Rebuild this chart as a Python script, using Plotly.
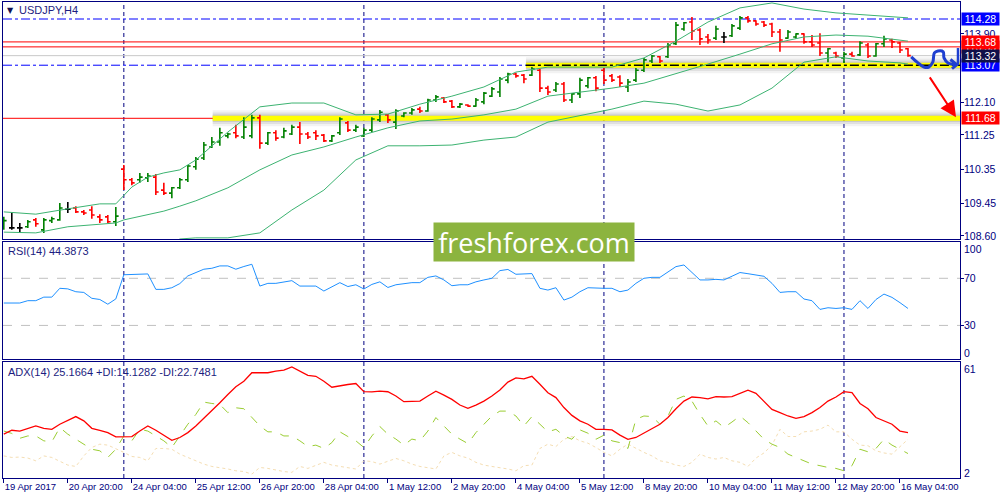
import plotly.graph_objects as go

# ---------------- data ----------------
bar_open = [108.84,108.81,108.81,108.84,109.02,108.76,109.00,109.02,109.30,109.33,
            109.23,109.28,109.10,109.10,108.97,110.35,110.07,110.07,110.12,110.14,
            109.80,109.72,109.86,110.07,110.41,110.64,110.93,111.06,111.22,111.30,
            111.19,111.22,111.69,111.03,111.30,111.19,111.27,111.45,111.27,111.30,
            111.24,111.09,111.30,111.56,111.37,111.22,111.37,111.64,111.77,111.58,
            111.74,111.82,111.92,111.87,112.16,112.21,112.13,111.98,112.03,112.00,
            112.11,112.26,112.37,112.68,112.84,112.81,112.81,112.94,112.47,112.42,
            112.58,112.16,112.32,112.53,112.74,112.94,112.79,112.76,112.50,112.68,
            112.94,113.18,113.29,113.29,113.63,114.02,114.20,113.99,113.81,113.78,
            113.81,113.84,114.04,114.31,114.23,114.20,114.15,113.94,113.78,113.81,
            113.89,113.68,113.65,113.39,113.39,113.26,113.36,113.34,113.60,113.31,
            113.63,113.73,113.65,113.50]
bar_high = [109.10,109.20,108.94,109.02,109.07,109.07,109.10,109.46,109.49,109.38,
            109.28,109.38,109.17,109.15,109.36,110.46,110.12,110.25,110.25,110.22,
            109.99,109.88,110.12,110.46,110.67,111.06,111.19,111.43,111.30,111.51,
            111.71,111.77,111.77,111.32,111.37,111.43,111.51,111.58,111.32,111.37,
            111.27,111.24,111.71,111.61,111.51,111.43,111.71,111.90,111.79,111.92,
            111.84,111.95,111.98,112.19,112.29,112.24,112.16,112.08,112.05,112.21,
            112.37,112.50,112.76,112.87,112.87,112.84,113.02,112.97,112.53,112.63,
            112.63,112.34,112.74,112.76,112.79,113.00,112.84,112.81,112.71,113.00,
            113.26,113.34,113.31,113.65,114.20,114.20,114.33,114.04,113.89,114.10,
            113.94,114.15,114.36,114.36,114.25,114.23,114.18,114.02,113.99,113.91,
            113.91,113.86,113.91,113.52,113.42,113.42,113.42,113.70,113.65,113.65,
            113.84,113.76,113.68,113.52]
bar_low = [108.76,108.76,108.68,108.81,108.84,108.68,108.94,109.00,109.20,109.20,
           109.15,109.05,108.94,108.94,108.86,109.80,109.93,109.99,110.01,109.67,
           109.67,109.59,109.83,110.01,110.33,110.59,110.90,110.96,111.16,111.16,
           111.14,111.16,110.88,110.98,111.09,111.16,111.24,111.01,111.14,111.11,
           111.06,111.06,111.24,111.32,111.32,111.19,111.32,111.58,111.56,111.40,
           111.71,111.77,111.82,111.85,112.11,112.08,111.95,111.95,111.98,111.98,
           112.05,112.24,112.24,112.60,112.74,112.60,112.79,112.37,112.29,112.37,
           112.11,112.08,112.21,112.47,112.39,112.58,112.63,112.50,112.37,112.63,
           112.89,113.13,113.13,113.26,113.60,113.97,113.73,113.60,113.63,113.73,
           113.65,113.81,113.99,114.18,114.10,114.07,113.81,113.42,113.76,113.76,
           113.63,113.55,113.31,113.15,113.26,113.13,113.29,113.31,113.26,113.29,
           113.55,113.52,113.39,113.29]
bar_close = [109.00,108.81,108.81,108.97,108.92,109.02,109.05,109.33,109.30,109.23,
             109.20,109.15,109.02,108.97,109.12,110.07,109.99,110.14,110.17,109.75,
             109.72,109.86,110.07,110.43,110.61,110.98,111.06,111.30,111.27,111.22,
             111.45,111.69,111.03,111.30,111.16,111.35,111.45,111.27,111.19,111.22,
             111.09,111.22,111.66,111.37,111.45,111.37,111.66,111.84,111.64,111.87,
             111.82,111.90,111.87,112.16,112.24,112.11,111.98,112.05,112.00,112.16,
             112.34,112.45,112.71,112.84,112.79,112.71,112.97,112.47,112.37,112.58,
             112.16,112.32,112.68,112.74,112.47,112.68,112.68,112.60,112.63,112.94,
             113.21,113.31,113.18,113.60,114.12,114.18,113.97,113.76,113.73,114.02,
             113.81,114.10,114.31,114.23,114.15,114.12,113.94,113.73,113.94,113.89,
             113.68,113.60,113.39,113.50,113.31,113.36,113.31,113.65,113.31,113.63,
             113.76,113.68,113.47,113.32]
doji_bars = [1, 2, 8, 90]

band_idx = [0,4,8,12,14,15,16,18,20,22,24,28,32,36,40,44,48,52,56,60,64,68,72,76,80,84,88,92,96,100,104,108,112,113]
band_upper = [109.23,109.17,109.31,109.44,109.44,109.67,109.88,110.14,110.25,110.33,110.59,111.32,111.98,112.08,112.08,111.77,111.79,
              112.05,112.26,112.50,112.89,113.02,113.02,113.02,113.26,113.70,114.20,114.57,114.70,114.54,114.44,114.38,114.33,114.31]
band_middle = [108.70,108.68,108.84,108.91,108.94,109.02,109.07,109.17,109.25,109.38,109.52,109.86,110.33,110.72,110.93,111.19,111.43,
               111.61,111.66,111.77,111.92,112.26,112.37,112.47,112.60,112.84,113.10,113.36,113.63,113.81,113.86,113.83,113.73,113.70]
band_lower = [108.18,108.18,108.34,108.39,108.44,108.34,108.23,108.10,108.23,108.52,108.55,108.55,108.68,109.28,109.80,110.59,110.96,
              110.96,110.98,111.11,111.19,111.58,111.74,111.92,112.13,112.05,111.87,112.03,112.47,113.15,113.29,113.18,113.13,113.10]

rsi = [49,49,49,51,51,54,54,61.5,61,58.6, 58,53,52,48,52.5,73,73.4,73.6,73.7,60.6,
       60.6,62,65.5,72,75,77.7,78.5,80.5,80.5,77.7, 80,81.9,63.4,65.7,65.7,67,68,63.4,63.4,63.4,
       59.2,63,66.3,63,64.5,60.9,64.8,67,62.2,64.5, 65.7,66.3,66.3,70.8,72,68.6,63.7,64.5,64.5,67,
       68.6,70,76.5,77.5,73.4,73.4,74,61.5,60,62, 51.5,54,58.6,62,61.5,61.5,61.5,58.6,60,65.7,
       70,70.8,70.8,75.6,79.9,81.3,74.9,68.6,68.6,69.1, 68.6,71.7,74.9,73.9,73,71.7,65.7,58,58.6,58.6,
       52.4,51,43.6,45,44.4,45,43.6,51,44.4,52, 56.6,53.8,49.3,44.4]
adx = [24.4,26.4,26,27.4,28.6,27.4,26.9,29.5,31.5,33.4, 31.2,27.4,26.4,25.2,23,23.2,23.2,26,28.6,26.4,
       23.9,21.3,22.7,25.2,28.6,32.4,36.2,40.5,44.7,48.6, 51.5,55.8,55.8,55.8,56.6,57.1,58.8,56.6,54.5,54,
       51.5,48.4,49.2,49.8,50.3,46.1,46,46.4,46.1,43.9, 41,41,41.3,43.9,46.4,44.4,42.2,39.3,37.6,39.3,
       41.3,43.9,47,51,53.2,52.7,54,49.9,45.6,43.1, 38,34,31.2,29.5,26.9,26.9,26.6,23.9,21.8,22.7,
       24.9,27.3,29.5,32.9,37.4,41.3,43.4,43.1,42.5,43.6, 43.4,43.6,45.3,46.9,45.3,41.3,37.1,35.4,33.7,32.5,
       33.4,35.4,38,41.3,43.4,46.1,45.6,40.1,37.4,32.9, 31.2,29.5,26,25.2]
plus_di = [26,24.8,22.3,23.5,23.5,21,20.5,27.8,24.4,21.9, 19.3,16.7,15.9,12.5,16.7,23.5,21,26.9,26,23.5,
           21,17.6,23.5,29.5,34.5,40.8,40.1,39.6,35.4,37.9, 37.4,32.9,28.6,25.6,25.6,23.5,23.5,21,18.1,18.8,
           17.1,20.1,25.6,23.2,21,17.6,23.5,28.3,24.4,21.9, 18.8,21.9,21,26,32.9,28.6,24.4,21.9,19.6,25.2,
           29.5,33.7,36.2,36.2,33.7,28.6,33.4,29.5,25.6,26.9, 23.5,21.8,26.6,24.9,21.8,23.9,21,20.1,17.1,32,
           33.7,33.4,29.5,33.7,42.2,43.9,41.3,34.5,28.6,31.2, 27.8,30.6,33.7,30.3,26,21.8,19.3,17.6,14.2,12.5,
           10.8,9.1,8.3,7.4,6.9,5.7,8.3,16.7,15.4,17.1, 21.8,18.8,16.7,14.5]
minus_di = [13.3,12.5,12.7,12.2,10.8,13.3,12.5,10.4,8.6,7.9, 13.3,17.6,19.3,18.8,17.1,15.1,13,12.5,10.8,17.1,
            17.1,16.7,14.2,12.5,10.8,9.1,7.9,7.4,6.6,5.7, 5.3,4,7.4,6.9,6,5.3,4.9,7.9,6.9,8.6,
            10,8.6,7.9,7.4,6.6,10.8,10.4,9.1,10.4,12, 10.8,9.1,7.9,7.4,6.6,13.3,15.1,13.3,12.2,10,
            8.6,7.9,7.4,6.6,5.7,8.3,8.6,17.1,19.3,18.1, 21.8,23.2,21,19.8,17.6,15.1,13.3,16.7,19.3,17.1,
            15.1,13.3,10.8,10,8.6,7.9,10,14.2,12.5,11.7, 12.5,10.8,10,7.9,12.2,14.8,18.8,26.9,23.2,23.2,
            25.6,26,26.9,29,25.6,25.6,21.8,18.8,18.5,15.9, 14.8,14.2,18.1,21.8]

tick_idx = [0, 8, 16, 24, 32, 40, 48, 56, 64, 72, 80, 88, 96, 104, 112]
tick_labels = ["19 Apr 2017", "20 Apr 20:00", "24 Apr 04:00", "25 Apr 12:00", "26 Apr 20:00",
               "28 Apr 04:00", "1 May 12:00", "2 May 20:00", "4 May 04:00", "5 May 12:00",
               "8 May 20:00", "10 May 04:00", "11 May 12:00", "12 May 20:00", "16 May 04:00"]
week_starts = [15, 45, 75, 105]
price_ticks = [108.60, 109.45, 110.35, 111.25, 112.10, 113.90]
price_tick_labels = ["108.60", "109.45", "110.35", "111.25", "112.10", "113.90"]
rsi_ticks = [70, 30]
rsi_tick_labels = ["70", "30"]

level_blue_top = 114.28
level_red_a = 113.68
level_red_b = 113.55
level_bid = 113.32
level_support = 113.07
level_target = 111.68
support_start = 65.25
target_start = 26.1

# hand-drawn forecast sketch (annotation)
sketch_x = [113.4, 114.25, 115.0, 115.6, 116.1, 116.3, 116.75, 117.4, 117.5, 118.0, 119.1]
sketch_y = [113.29, 113.13, 113.02, 113.02, 113.15, 113.39, 113.44, 113.42, 113.26, 113.13, 113.08]

# ---------------- figure ----------------
NAVY = "#000080"
GREEN_BB = "#3CB371"
FONT = "Liberation Sans, Arial, sans-serif"
XR = [-0.1, 119.5]

n = len(bar_open)
idx = list(range(n))
main_i = [i for i in idx if i not in doji_bars]

fig = go.Figure()

fig.add_trace(go.Ohlc(
    x=main_i, open=[bar_open[i] for i in main_i], high=[bar_high[i] for i in main_i],
    low=[bar_low[i] for i in main_i], close=[bar_close[i] for i in main_i],
    increasing=dict(line=dict(color="#008000", width=1.6)),
    decreasing=dict(line=dict(color="#FF0000", width=1.6)),
    tickwidth=0.35, hoverinfo="skip", xaxis="x", yaxis="y", showlegend=False))
fig.add_trace(go.Ohlc(
    x=doji_bars, open=[bar_open[i] for i in doji_bars], high=[bar_high[i] for i in doji_bars],
    low=[bar_low[i] for i in doji_bars], close=[bar_close[i] for i in doji_bars],
    increasing=dict(line=dict(color="#000000", width=1.6)),
    decreasing=dict(line=dict(color="#000000", width=1.6)),
    tickwidth=0.35, hoverinfo="skip", xaxis="x", yaxis="y", showlegend=False))

for band in (band_upper, band_middle, band_lower):
    fig.add_trace(go.Scatter(x=band_idx, y=band, mode="lines", line=dict(color=GREEN_BB, width=1),
                             hoverinfo="skip", showlegend=False, xaxis="x", yaxis="y"))

fig.add_trace(go.Scatter(x=sketch_x, y=sketch_y, mode="lines", line=dict(color="#1F3FD0", width=3, shape="spline"),
                         hoverinfo="skip", showlegend=False, xaxis="x", yaxis="y"))
fig.add_trace(go.Scatter(x=[118.3, 119.1, 118.5], y=[113.22, 113.08, 112.98], mode="lines",
                         line=dict(color="#1F3FD0", width=3), hoverinfo="skip", showlegend=False,
                         xaxis="x", yaxis="y"))
fig.add_trace(go.Scatter(x=[119.25, 119.25], y=[113.52, 113.08], mode="lines",
                         line=dict(color="#1F3FD0", width=2.5), hoverinfo="skip", showlegend=False,
                         xaxis="x", yaxis="y"))

fig.add_trace(go.Scatter(x=idx, y=rsi, mode="lines", line=dict(color="#1E90FF", width=1),
                         hoverinfo="skip", showlegend=False, xaxis="x2", yaxis="y2"))

fig.add_trace(go.Scatter(x=idx, y=minus_di, mode="lines", line=dict(color="#F5DEB3", width=1, dash="dot"),
                         hoverinfo="skip", showlegend=False, xaxis="x3", yaxis="y3"))
fig.add_trace(go.Scatter(x=idx, y=plus_di, mode="lines", line=dict(color="#9ACD32", width=1, dash="dash"),
                         hoverinfo="skip", showlegend=False, xaxis="x3", yaxis="y3"))
fig.add_trace(go.Scatter(x=idx, y=adx, mode="lines", line=dict(color="#FF0000", width=1.3),
                         hoverinfo="skip", showlegend=False, xaxis="x3", yaxis="y3"))

# ---------------- shapes ----------------
shapes = []
for w in week_starts:
    shapes.append(dict(type="line", xref="x", yref="paper", x0=w, x1=w, y0=0, y1=1,
                       line=dict(color=NAVY, width=1, dash="4px,3px"), layer="below"))


def hline(yv, color, dash="solid", x0=None, width=1):
    if x0 is None:
        return dict(type="line", xref="x domain", yref="y", x0=0, x1=1, y0=yv, y1=yv,
                    line=dict(color=color, width=width, dash=dash), layer="below")
    return dict(type="line", xref="x", yref="y", x0=x0, x1=XR[1], y0=yv, y1=yv,
                line=dict(color=color, width=width, dash=dash), layer="below")


def glow(yv, x0):
    out = []
    for half, col in ((0.21, "rgba(0,0,0,0.05)"), (0.15, "rgba(0,0,0,0.07)"), (0.10, "rgba(0,0,0,0.10)")):
        out.append(dict(type="rect", xref="x", yref="y", x0=x0, x1=XR[1], y0=yv - half, y1=yv + half,
                        fillcolor=col, line=dict(width=0), layer="below"))
    out.append(dict(type="rect", xref="x", yref="y", x0=x0, x1=XR[1], y0=yv - 0.065, y1=yv + 0.065,
                    fillcolor="#FFFF00", line=dict(width=0), layer="below"))
    return out


shapes.append(hline(level_blue_top, "#0000FF", "dashdot"))
shapes.append(hline(level_red_a, "#FF0000"))
shapes.append(hline(level_red_b, "#FF0000"))
shapes.append(hline(level_bid, "#C8C8C8"))
shapes.append(hline(level_support, "#0000FF", "dashdot"))
shapes += glow(level_support, support_start)
shapes.append(hline(level_support, "#000000", "dashdot", x0=support_start, width=1.5))
shapes += glow(level_target, target_start)
shapes.append(hline(level_target, "#FF0000"))

shapes.append(dict(type="line", xref="x2 domain", yref="y2", x0=0, x1=1, y0=70, y1=70,
                   line=dict(color="#C0C0C0", width=1, dash="dash"), layer="below"))
shapes.append(dict(type="line", xref="x2 domain", yref="y2", x0=0, x1=1, y0=30, y1=30,
                   line=dict(color="#C0C0C0", width=1, dash="dash"), layer="below"))

# ---------------- annotations ----------------
ann = []
axis_font = dict(family=FONT, size=10.5, color=NAVY)

# right-hand axis labels (plain)
for yv, txt in zip(price_ticks, price_tick_labels):
    ann.append(dict(xref="paper", yref="y", x=1, y=yv, xanchor="left", yanchor="middle", xshift=2,
                    text=txt, showarrow=False, font=axis_font))
for yv, txt in zip(rsi_ticks, rsi_tick_labels):
    ann.append(dict(xref="paper", yref="y2", x=1, y=yv, xanchor="left", yanchor="middle", xshift=2,
                    text=txt, showarrow=False, font=axis_font))
for yref, yv, txt in (("y2", 94.9, "100"), ("y2", 6.4, "0"), ("y3", 57.7, "61"), ("y3", 4.6, "2")):
    ann.append(dict(xref="paper", yref=yref, x=1, y=yv, xanchor="left", yanchor="middle", xshift=2,
                    text=txt, showarrow=False, font=axis_font))


def price_box(yv, text, bg):
    return dict(xref="paper", yref="y", x=1, y=yv, xanchor="left", yanchor="middle", xshift=1,
                text=text, showarrow=False, bgcolor=bg, width=37, height=12, borderpad=0,
                font=dict(family=FONT, size=10.5, color="#FFFFFF"))


ann.append(price_box(level_red_b, "113.55", "#FF0000"))
ann.append(price_box(level_red_a, "113.68", "#FF0000"))
ann.append(price_box(level_support, "113.07", "#0000FF"))
ann.append(price_box(level_bid, "113.32", "#10104A"))
ann.append(price_box(level_blue_top, "114.28", "#0000FF"))
ann.append(price_box(level_target, "111.68", "#FF0000"))

ann.append(dict(xref="x", yref="y", x=119.0, y=111.71, ax=115.6, ay=112.79, axref="x", ayref="y",
                text="", showarrow=True, arrowcolor="#FF0000", arrowwidth=2, arrowhead=2, arrowsize=1.6))

lab_font = dict(family=FONT, size=11, color="#1C1C80")
ann.append(dict(xref="paper", yref="paper", x=0, y=0.983, xanchor="left", yanchor="middle", xshift=2,
                text="▼", showarrow=False, font=dict(family="DejaVu Sans", size=8, color="#101050")))
ann.append(dict(xref="paper", yref="paper", x=0, y=0.983, xanchor="left", yanchor="middle", xshift=14,
                text="USDJPY,H4", showarrow=False, font=lab_font))
ann.append(dict(xref="paper", yref="paper", x=0, y=0.477, xanchor="left", yanchor="middle", xshift=3,
                text="RSI(14) 44.3873", showarrow=False, font=lab_font))
ann.append(dict(xref="paper", yref="paper", x=0, y=0.2227, xanchor="left", yanchor="middle", xshift=3,
                text="ADX(14) 25.1664 +DI:14.1282 -DI:22.7481", showarrow=False, font=lab_font))

ann.append(dict(xref="paper", yref="paper", x=0.5549, y=0.4958, xanchor="center", yanchor="middle",
                text="freshforex.com", showarrow=False, bgcolor="#8CB43F", width=198, height=36,
                font=dict(family="Open Sans", size=27, color="#FFFFFF")))

# ---------------- layout ----------------
xcommon = dict(range=XR, showgrid=False, zeroline=False, showline=True, linecolor=NAVY, linewidth=1,
               mirror=True, fixedrange=True, automargin=False)
ycommon = dict(showgrid=False, zeroline=False, showline=True, linecolor=NAVY, linewidth=1, mirror=True,
               side="right", ticks="outside", ticklen=3, tickcolor=NAVY, showticklabels=False,
               fixedrange=True, automargin=False)

fig.update_layout(
    width=1000, height=500,
    margin=dict(l=3, r=40, t=2, b=22, autoexpand=False),
    paper_bgcolor="#FFFFFF", plot_bgcolor="#FFFFFF",
    showlegend=False,
    xaxis=dict(**xcommon, anchor="y", showticklabels=False, ticks="", rangeslider=dict(visible=False)),
    xaxis2=dict(**xcommon, anchor="y2", showticklabels=False, ticks=""),
    xaxis3=dict(**xcommon, anchor="y3", tickmode="array", tickvals=tick_idx, ticktext=tick_labels,
                ticks="outside", ticklen=4, tickcolor=NAVY, ticklabelposition="outside right",
                tickangle=0, tickfont=dict(family=FONT, size=9.5, color=NAVY)),
    yaxis=dict(**ycommon, domain=[0.5021, 1.0], range=[108.52, 114.725], anchor="x",
               tickmode="array", tickvals=price_ticks),
    yaxis2=dict(**ycommon, domain=[0.25, 0.4958], range=[1.5, 100.8], anchor="x2",
                tickmode="array", tickvals=rsi_ticks),
    yaxis3=dict(**ycommon, domain=[0.0, 0.2437], range=[2.0, 61.3], anchor="x3",
                tickmode="array", tickvals=[]),
    shapes=shapes,
    annotations=ann,
)

fig.write_html("out.html", config={"displayModeBar": False},
               post_script="document.body.style.margin='0';document.body.style.overflow='hidden';")
